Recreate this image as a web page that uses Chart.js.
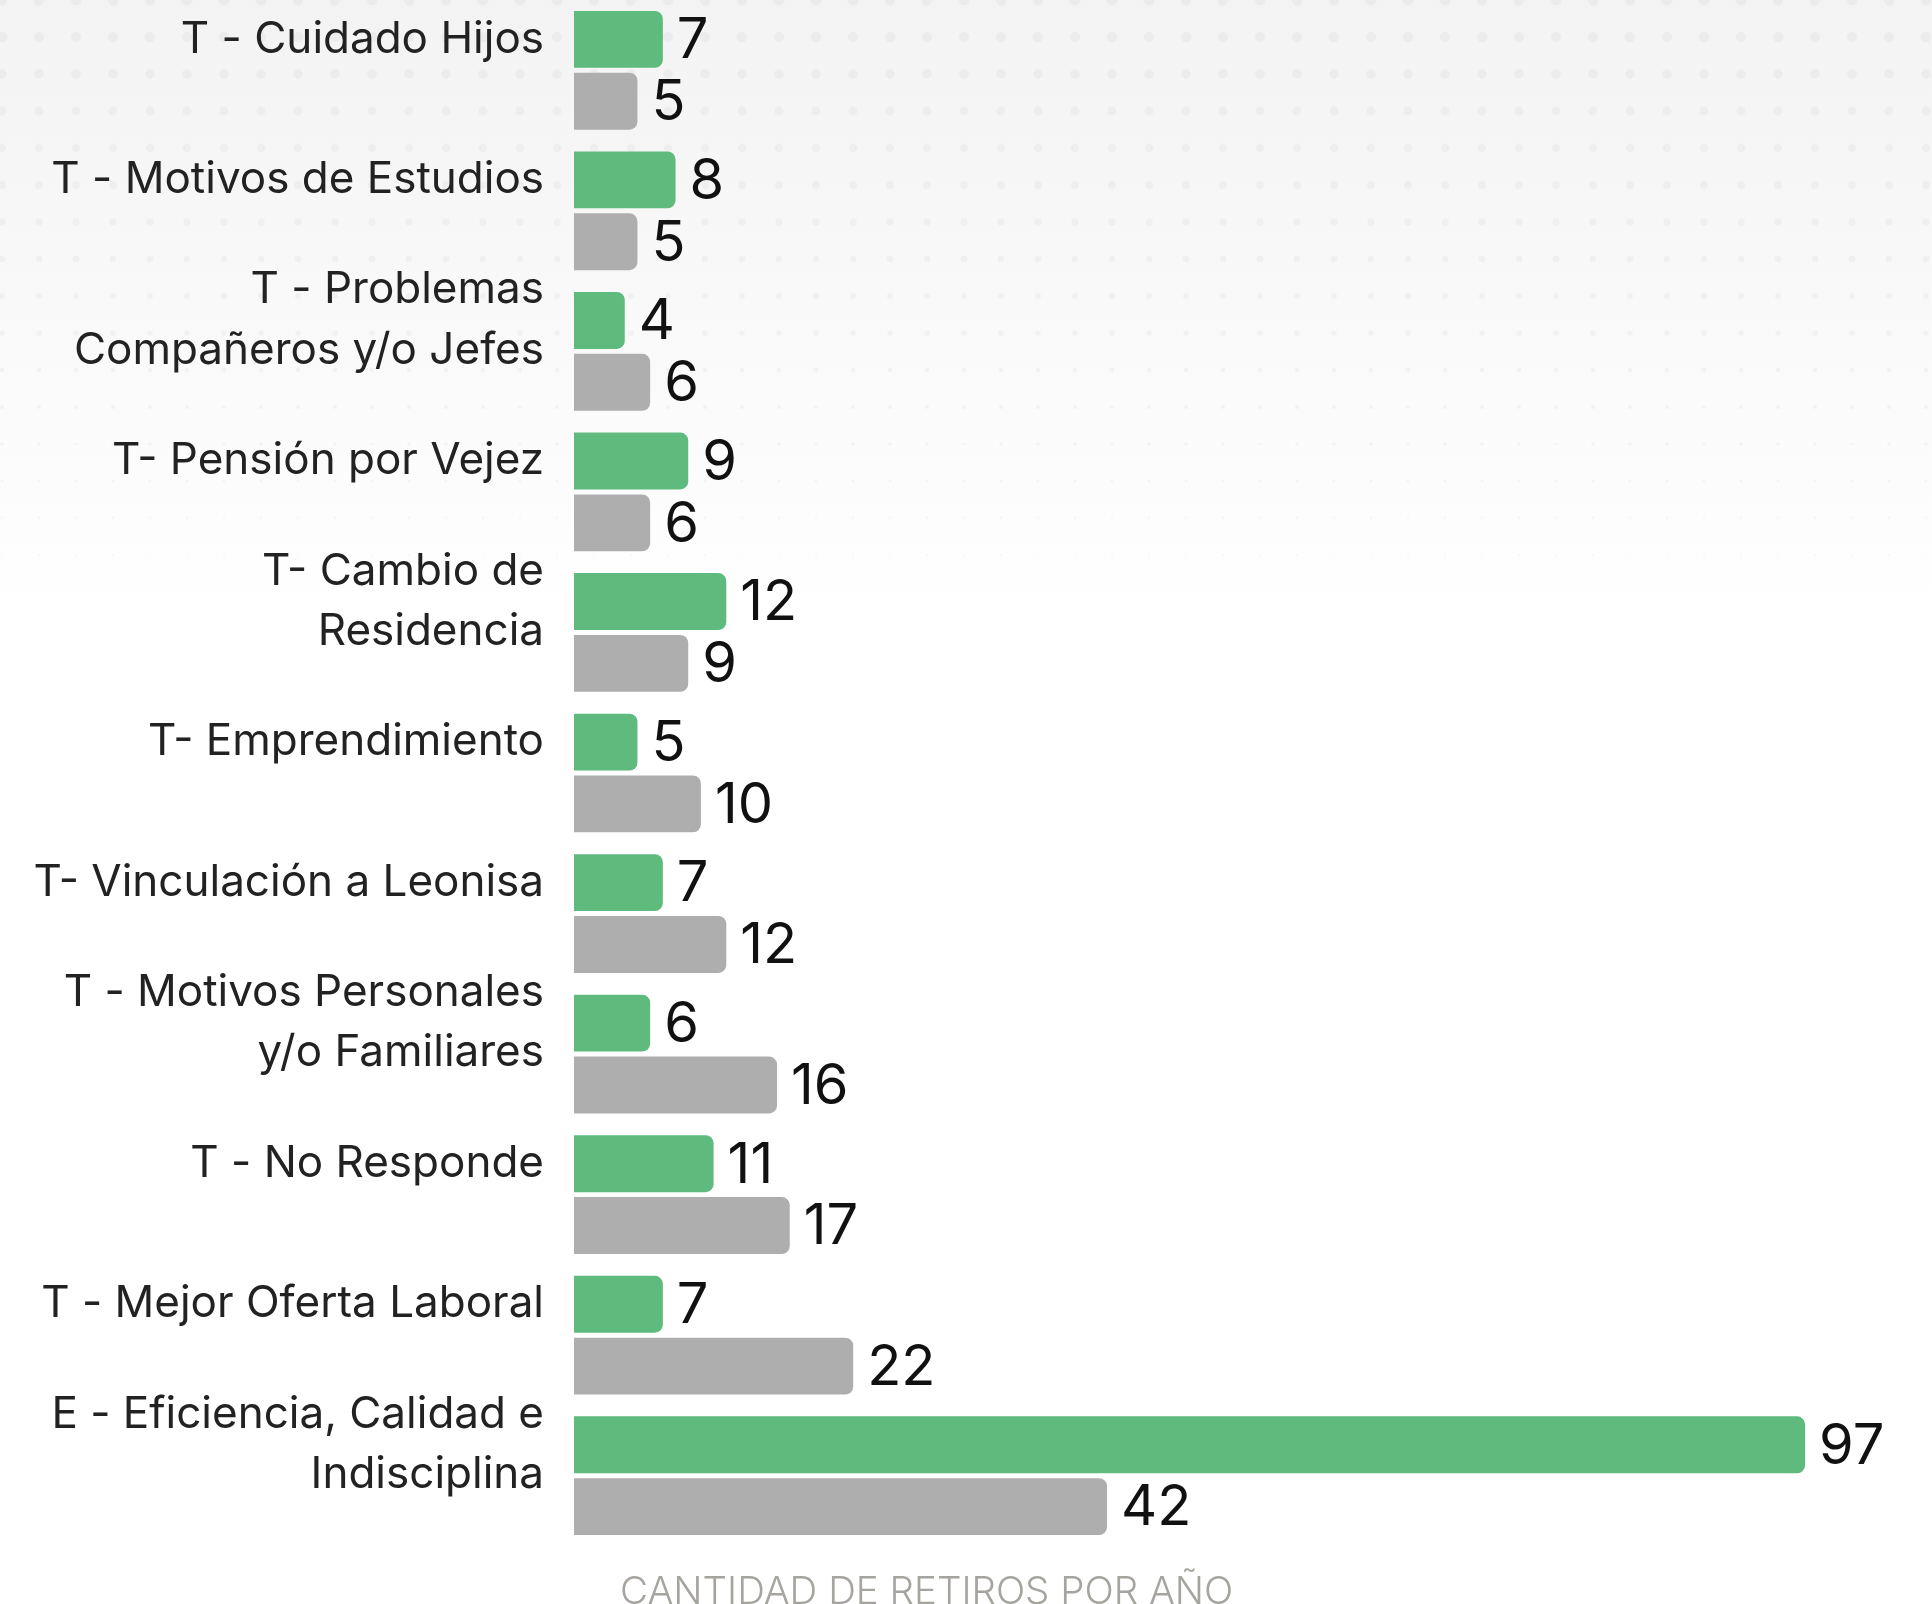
<!DOCTYPE html>
<html>
<head>
<meta charset="utf-8">
<script src="https://cdn.jsdelivr.net/npm/chart.js@4"></script>
<style>
  html, body { margin: 0; padding: 0; background: #fff; }
</style>
</head>
<body>
<canvas id="myChart" width="1932" height="1604"></canvas>
<script>
// categories (top to bottom) and the two series
const categories = [
    ["T - Cuidado Hijos"],
    ["T - Motivos de Estudios"],
    ["T - Problemas", "Compañeros y/o Jefes"],
    ["T- Pensión por Vejez"],
    ["T- Cambio de", "Residencia"],
    ["T- Emprendimiento"],
    ["T- Vinculación a Leonisa"],
    ["T - Motivos Personales", "y/o Familiares"],
    ["T - No Responde"],
    ["T - Mejor Oferta Laboral"],
    ["E - Eficiencia, Calidad e", "Indisciplina"]
];
const retirosActual = [7, 8, 4, 9, 12, 5, 7, 6, 11, 7, 97];
const retirosAnterior = [5, 5, 6, 6, 9, 10, 12, 16, 17, 22, 42];
const axisTitle = "CANTIDAD DE RETIROS POR AÑO";

const FONT = "Inter, 'Noto Sans', sans-serif";

// light gray gradient + fading dot grid behind the chart
const backgroundPlugin = {
    id: 'bgDots',
    beforeDraw(chart) {
        const ctx = chart.ctx;
        const w = chart.width, h = chart.height;
        ctx.save();
        let grad = ctx.createLinearGradient(0, 0, 0, 620);
        grad.addColorStop(0, '#f3f3f3');
        grad.addColorStop(1, '#ffffff');
        ctx.fillStyle = grad;
        ctx.fillRect(0, 0, w, h);
        ctx.fillStyle = 'rgba(0,0,0,0.03)';
        for (let y = 0; y < 560; y += 37) {
            let r = 5.5 - y / 120;
            if (r < 1) r = 1;
            for (let x = 2; x < w; x += 37) {
                ctx.beginPath();
                ctx.arc(x, y, r, 0, Math.PI * 2);
                ctx.fill();
            }
        }
        ctx.restore();
    }
};

// value labels at the end of each bar
const valueLabelPlugin = {
    id: 'valueLabels',
    afterDatasetsDraw(chart) {
        const ctx = chart.ctx;
        ctx.save();
        ctx.font = "400 56px " + FONT;
        ctx.fillStyle = '#111';
        ctx.textAlign = 'left';
        ctx.textBaseline = 'middle';
        chart.data.datasets.forEach((ds, i) => {
            const meta = chart.getDatasetMeta(i);
            meta.data.forEach((bar, j) => {
                ctx.fillText(String(ds.data[j]), bar.x + 14, bar.y + 2);
            });
        });
        ctx.restore();
    }
};

// axis caption under the bars
const captionPlugin = {
    id: 'caption',
    afterDraw(chart) {
        const ctx = chart.ctx;
        const area = chart.chartArea;
        ctx.save();
        ctx.font = "300 38.5px " + FONT;
        ctx.fillStyle = '#a6a49f';
        ctx.textAlign = 'left';
        ctx.textBaseline = 'middle';
        ctx.fillText(axisTitle, area.left + 46, area.bottom + 46);
        ctx.restore();
    }
};

const ctx = document.getElementById('myChart').getContext('2d');
const myChart = new Chart(ctx, {
    type: 'bar',
    data: {
        labels: categories,
        datasets: [{
            label: 'Año actual',
            data: retirosActual,
            backgroundColor: '#5fba7d',
            borderRadius: 8,
            borderSkipped: 'start',
            categoryPercentage: 0.88,
            barPercentage: 0.92
        }, {
            label: 'Año anterior',
            data: retirosAnterior,
            backgroundColor: '#aeaeae',
            borderRadius: 8,
            borderSkipped: 'start',
            categoryPercentage: 0.88,
            barPercentage: 0.92
        }]
    },
    options: {
        indexAxis: 'y',
        responsive: false,
        animation: false,
        layout: { padding: { top: 0, right: 0, bottom: 58, left: 0 } },
        plugins: {
            legend: { display: false },
            tooltip: { enabled: false }
        },
        scales: {
            x: {
                display: false,
                min: 0,
                max: 107
            },
            y: {
                grid: { display: false },
                border: { display: false },
                ticks: {
                    color: '#222',
                    padding: 22,
                    labelOffset: -31,
                    font: { family: FONT, size: 44, weight: 400, lineHeight: 1.37 }
                },
                afterFit(scale) {
                    scale.width = 574;
                    scale.paddingTop = 0;
                    scale.paddingBottom = 0;
                }
            }
        }
    },
    plugins: [backgroundPlugin, valueLabelPlugin, captionPlugin]
});
</script>
</body>
</html>
